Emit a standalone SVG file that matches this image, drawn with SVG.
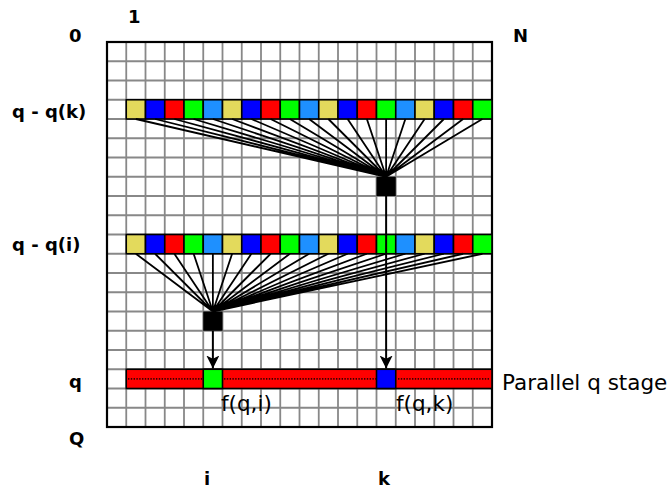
<svg xmlns="http://www.w3.org/2000/svg" xmlns:xlink="http://www.w3.org/1999/xlink" width="670" height="488" viewBox="0 0 670 488">
<style>
.grid{stroke:#888;stroke-width:1.8;fill:none}
.border{stroke:#000;stroke-width:2.2;fill:none}
.c{stroke:#000;stroke-width:1.6}
.Y{fill:#e3da5c}.B{fill:#0000ff}.R{fill:#ff0000}.G{fill:#00ff00}.L{fill:#1e90ff}
.fan{stroke:#000;stroke-width:1.8;fill:none}
.arr{stroke:#000;stroke-width:2;fill:none}
.lbl{font-family:"DejaVu Sans",sans-serif;font-weight:bold;font-size:18px;fill:#000}
.txt{font-family:"DejaVu Sans",sans-serif;font-size:21.5px;fill:#000}
</style>
<defs>
<marker id="ah" viewBox="0 0 12 12" refX="12" refY="6" markerWidth="13" markerHeight="13" markerUnits="userSpaceOnUse" orient="auto">
<path d="M0,0 L12,6 L0,12 L3,6 z" fill="#000"/>
</marker>
<g id="crow">
<rect class="c Y" x="126.25" y="0" width="19.25" height="19.25"/>
<rect class="c B" x="145.5" y="0" width="19.25" height="19.25"/>
<rect class="c R" x="164.75" y="0" width="19.25" height="19.25"/>
<rect class="c G" x="184" y="0" width="19.25" height="19.25"/>
<rect class="c L" x="203.25" y="0" width="19.25" height="19.25"/>
<rect class="c Y" x="222.5" y="0" width="19.25" height="19.25"/>
<rect class="c B" x="241.75" y="0" width="19.25" height="19.25"/>
<rect class="c R" x="261" y="0" width="19.25" height="19.25"/>
<rect class="c G" x="280.25" y="0" width="19.25" height="19.25"/>
<rect class="c L" x="299.5" y="0" width="19.25" height="19.25"/>
<rect class="c Y" x="318.75" y="0" width="19.25" height="19.25"/>
<rect class="c B" x="338" y="0" width="19.25" height="19.25"/>
<rect class="c R" x="357.25" y="0" width="19.25" height="19.25"/>
<rect class="c G" x="376.5" y="0" width="19.25" height="19.25"/>
<rect class="c L" x="395.75" y="0" width="19.25" height="19.25"/>
<rect class="c Y" x="415" y="0" width="19.25" height="19.25"/>
<rect class="c B" x="434.25" y="0" width="19.25" height="19.25"/>
<rect class="c R" x="453.5" y="0" width="19.25" height="19.25"/>
<rect class="c G" x="472.75" y="0" width="19.25" height="19.25"/>
</g>
</defs>
<rect width="670" height="488" fill="#fff"/>
<g id="grid">
<path class="grid" d="M126.25,42V427M145.5,42V427M164.75,42V427M184,42V427M203.25,42V427M222.5,42V427M241.75,42V427M261,42V427M280.25,42V427M299.5,42V427M318.75,42V427M338,42V427M357.25,42V427M376.5,42V427M395.75,42V427M415,42V427M434.25,42V427M453.5,42V427M472.75,42V427M107,61.25H492M107,80.5H492M107,99.75H492M107,119H492M107,138.25H492M107,157.5H492M107,176.75H492M107,196H492M107,215.25H492M107,234.5H492M107,253.75H492M107,273H492M107,292.25H492M107,311.5H492M107,330.75H492M107,350H492M107,369.25H492M107,388.5H492M107,407.75H492"/>
<rect class="border" x="107" y="42" width="385" height="385"/>
</g>
<g id="row-qk"><use xlink:href="#crow" href="#crow" y="99.75"/></g>
<g id="row-qi"><use xlink:href="#crow" href="#crow" y="234.5"/></g>
<g id="row-q">
<rect class="c R" x="126.25" y="369.25" width="365.75" height="19.25"/>
<path d="M128,378.9H203M224,378.9H376M398,378.9H490" stroke="#3a0000" stroke-width="1.6" stroke-dasharray="1.4,1.4" fill="none"/>
<rect class="c G" x="203.25" y="369.25" width="19.25" height="19.25"/>
<rect class="c B" x="376.5" y="369.25" width="19.25" height="19.25"/>
</g>
<g id="connectors">
<path class="fan" d="M135.875,119L386.125,176.75M155.125,119L386.125,176.75M174.375,119L386.125,176.75M193.625,119L386.125,176.75M212.875,119L386.125,176.75M232.125,119L386.125,176.75M251.375,119L386.125,176.75M270.625,119L386.125,176.75M289.875,119L386.125,176.75M309.125,119L386.125,176.75M328.375,119L386.125,176.75M347.625,119L386.125,176.75M366.875,119L386.125,176.75M386.125,119L386.125,176.75M405.375,119L386.125,176.75M424.625,119L386.125,176.75M443.875,119L386.125,176.75M463.125,119L386.125,176.75M482.375,119L386.125,176.75"/>
<path class="fan" d="M135.875,253.75L212.875,311.5M155.125,253.75L212.875,311.5M174.375,253.75L212.875,311.5M193.625,253.75L212.875,311.5M212.875,253.75L212.875,311.5M232.125,253.75L212.875,311.5M251.375,253.75L212.875,311.5M270.625,253.75L212.875,311.5M289.875,253.75L212.875,311.5M309.125,253.75L212.875,311.5M328.375,253.75L212.875,311.5M347.625,253.75L212.875,311.5M366.875,253.75L212.875,311.5M386.125,253.75L212.875,311.5M405.375,253.75L212.875,311.5M424.625,253.75L212.875,311.5M443.875,253.75L212.875,311.5M463.125,253.75L212.875,311.5M482.375,253.75L212.875,311.5"/>
<line class="arr" x1="386.125" y1="196" x2="386.125" y2="368.5" marker-end="url(#ah)"/>
<line class="arr" x1="212.875" y1="330.75" x2="212.875" y2="368.5" marker-end="url(#ah)"/>
</g>
<g id="node-k"><rect x="376.5" y="176.75" width="19.25" height="19.25" fill="#000"/></g>
<g id="node-i"><rect x="203.25" y="311.5" width="19.25" height="19.25" fill="#000"/></g>
<g id="labels">
<text class="lbl" x="69" y="42">0</text>
<text class="lbl" x="128" y="23" font-weight="normal">1</text>
<text class="lbl" x="513" y="42">N</text>
<text class="lbl" x="12" y="118">q - q(k)</text>
<text class="lbl" x="12" y="251">q - q(i)</text>
<text class="lbl" x="69" y="388">q</text>
<text class="lbl" x="69" y="445">Q</text>
<text class="lbl" x="204" y="485">i</text>
<text class="lbl" x="378" y="485">k</text>
<text class="txt" x="221" y="411">f(q,i)</text>
<text class="txt" x="396" y="411">f(q,k)</text>
<text class="txt" x="502" y="390">Parallel q stage</text>
</g>
</svg>
